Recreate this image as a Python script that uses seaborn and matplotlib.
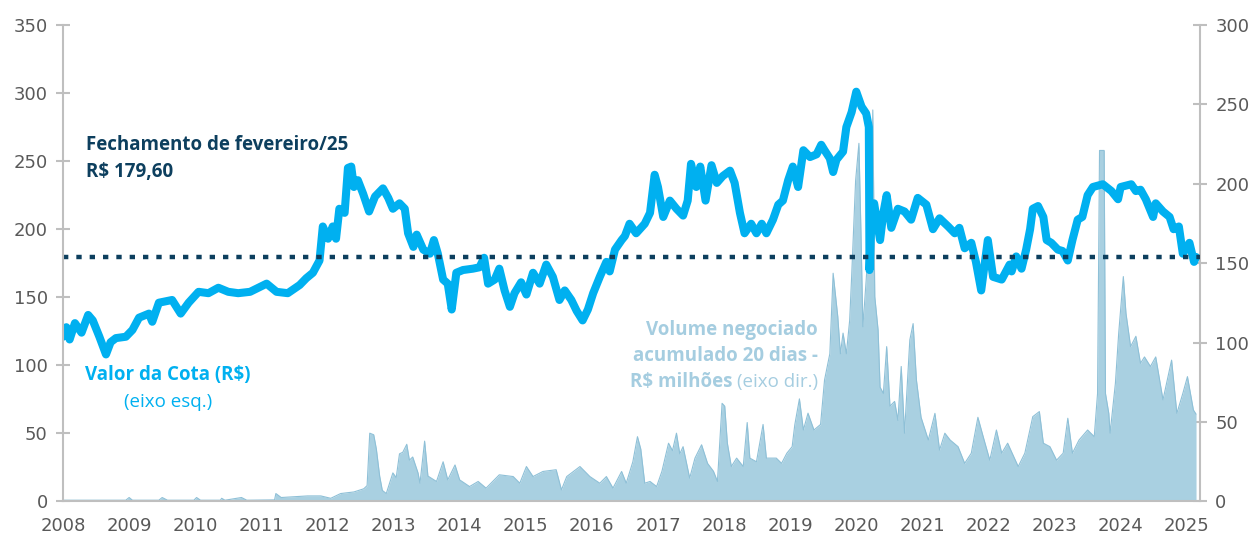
import pandas as pd
import matplotlib.pyplot as plt
import seaborn as sns

# valor da cota (R$) - eixo esquerdo
price_years = [
    2008.00, 2008.05, 2008.10, 2008.18, 2008.28, 2008.38, 2008.45, 2008.55, 2008.65, 2008.72,
    2008.80, 2008.95, 2009.05, 2009.15, 2009.30, 2009.35, 2009.45, 2009.65, 2009.78, 2009.90,
    2010.05, 2010.20, 2010.35, 2010.50, 2010.65, 2010.83, 2011.08, 2011.23, 2011.40, 2011.58,
    2011.68, 2011.78, 2011.88, 2011.93, 2012.01, 2012.08, 2012.13, 2012.18, 2012.26, 2012.31,
    2012.36, 2012.40, 2012.46, 2012.54, 2012.63, 2012.72, 2012.84, 2012.92, 2012.99, 2013.09,
    2013.17, 2013.22, 2013.30, 2013.35, 2013.45, 2013.55, 2013.61, 2013.67, 2013.75, 2013.82,
    2013.88, 2013.95, 2014.05, 2014.20, 2014.30, 2014.37, 2014.43, 2014.53, 2014.60, 2014.68,
    2014.76, 2014.83, 2014.93, 2015.01, 2015.11, 2015.21, 2015.31, 2015.41, 2015.51, 2015.59,
    2015.69, 2015.77, 2015.86, 2015.94, 2016.02, 2016.12, 2016.22, 2016.27, 2016.35, 2016.45,
    2016.50, 2016.57, 2016.67, 2016.80, 2016.88, 2016.95, 2017.00, 2017.08, 2017.18, 2017.28,
    2017.38, 2017.45, 2017.50, 2017.58, 2017.64, 2017.72, 2017.81, 2017.89, 2017.98, 2018.09,
    2018.16, 2018.24, 2018.31, 2018.41, 2018.49, 2018.57, 2018.64, 2018.74, 2018.82, 2018.89,
    2018.97, 2019.04, 2019.12, 2019.20, 2019.30, 2019.40, 2019.47, 2019.52, 2019.60, 2019.65,
    2019.70, 2019.80, 2019.85, 2019.93, 2020.00, 2020.08, 2020.15, 2020.19, 2020.20, 2020.23,
    2020.27, 2020.36, 2020.41, 2020.46, 2020.53, 2020.63, 2020.73, 2020.83, 2020.93, 2021.06,
    2021.16, 2021.26, 2021.39, 2021.49, 2021.56, 2021.64, 2021.74, 2021.81, 2021.89, 2021.99,
    2022.07, 2022.20, 2022.32, 2022.35, 2022.42, 2022.50, 2022.57, 2022.63, 2022.67, 2022.75,
    2022.83, 2022.88, 2022.95, 2023.05, 2023.12, 2023.20, 2023.27, 2023.35, 2023.42, 2023.50,
    2023.58, 2023.73, 2023.86, 2023.96, 2024.00, 2024.16, 2024.23, 2024.30, 2024.38, 2024.49,
    2024.53, 2024.64, 2024.74, 2024.80, 2024.88, 2024.94, 2025.04, 2025.11, 2025.14,
]
price_values = [
    121, 128, 119, 131, 124, 137, 133, 121, 108, 117,
    120, 121, 126, 135, 138, 132, 146, 148, 138, 146,
    154, 153, 157, 154, 153, 154, 160, 154, 153, 159,
    164, 168, 177, 202, 193, 202, 193, 215, 212, 245,
    246, 231, 236, 226, 213, 224, 230, 223, 215, 219,
    215, 197, 187, 196, 185, 182, 192, 182, 163, 160,
    141, 168, 170, 171, 172, 179, 160, 163, 171, 155,
    143, 153, 161, 152, 168, 160, 174, 165, 148, 155,
    148, 140, 133, 141, 153, 165, 176, 169, 185, 192,
    195, 204, 197, 204, 212, 240, 231, 209, 221, 215,
    210, 221, 248, 231, 246, 221, 247, 234, 239, 243,
    234, 212, 197, 204, 197, 204, 197, 207, 218, 221,
    236, 246, 231, 258, 253, 255, 262, 258, 252, 242,
    251, 257, 275, 286, 301, 290, 285, 275, 170, 207,
    219, 192, 212, 225, 201, 215, 213, 207, 223, 218,
    200, 208, 202, 197, 201, 186, 190, 176, 155, 192,
    165, 163, 174, 169, 180, 171, 185, 200, 215, 217,
    209, 192, 190, 185, 184, 177, 192, 207, 209, 225,
    231, 233, 228, 222, 231, 233, 228, 229, 222, 209,
    219, 213, 209, 200, 202, 182, 190, 176, 179.6,
]

# volume negociado acumulado 20 dias (R$ milhoes) - eixo direito
volume_years = [
    2008.00, 2008.50, 2008.95, 2009.00, 2009.05, 2009.45, 2009.50, 2009.58, 2009.98, 2010.02,
    2010.08, 2010.38, 2010.40, 2010.45, 2010.70, 2010.78, 2011.20, 2011.22, 2011.30, 2011.50,
    2011.70, 2011.90, 2012.05, 2012.20, 2012.40, 2012.55, 2012.60, 2012.64, 2012.70, 2012.74,
    2012.79, 2012.83, 2012.89, 2012.99, 2013.04, 2013.09, 2013.14, 2013.20, 2013.24, 2013.29,
    2013.37, 2013.40, 2013.47, 2013.52, 2013.65, 2013.75, 2013.82, 2013.93, 2014.00, 2014.15,
    2014.28, 2014.40, 2014.60, 2014.81, 2014.91, 2015.01, 2015.11, 2015.26, 2015.46, 2015.54,
    2015.62, 2015.82, 2015.97, 2016.12, 2016.22, 2016.32, 2016.45, 2016.52, 2016.62, 2016.69,
    2016.74, 2016.80, 2016.88, 2016.98, 2017.06, 2017.16, 2017.22, 2017.28, 2017.33, 2017.38,
    2017.48, 2017.56, 2017.66, 2017.75, 2017.84, 2017.90, 2017.97, 2018.01, 2018.05, 2018.11,
    2018.19, 2018.29, 2018.35, 2018.39, 2018.49, 2018.59, 2018.64, 2018.79, 2018.87, 2018.95,
    2019.03, 2019.07, 2019.14, 2019.20, 2019.27, 2019.36, 2019.46, 2019.52, 2019.60, 2019.65,
    2019.72, 2019.76, 2019.80, 2019.85, 2019.90, 2019.93, 2019.99, 2020.04, 2020.07, 2020.10,
    2020.15, 2020.23, 2020.25, 2020.28, 2020.33, 2020.36, 2020.41, 2020.46, 2020.51, 2020.58,
    2020.63, 2020.68, 2020.73, 2020.81, 2020.86, 2020.91, 2020.98, 2021.09, 2021.19, 2021.26,
    2021.34, 2021.42, 2021.54, 2021.64, 2021.74, 2021.84, 2021.92, 2022.02, 2022.12, 2022.20,
    2022.29, 2022.45, 2022.55, 2022.67, 2022.77, 2022.83, 2022.93, 2023.03, 2023.13, 2023.20,
    2023.27, 2023.37, 2023.50, 2023.60, 2023.65, 2023.68, 2023.75, 2023.77, 2023.82, 2023.84,
    2023.92, 2023.97, 2024.04, 2024.08, 2024.15, 2024.23, 2024.30, 2024.36, 2024.45, 2024.53,
    2024.64, 2024.77, 2024.85, 2024.94, 2025.01, 2025.10, 2025.14,
]
volume_values = [
    0.8, 0.8, 0.8, 2.5, 0.8, 0.8, 2.5, 0.8, 0.8, 2.5,
    0.8, 0.8, 2.0, 0.8, 2.5, 0.8, 1.0, 5.0, 2.5, 3.0,
    3.5, 3.5, 2.0, 5.0, 6.0, 8.0, 10, 43, 42, 33,
    16, 7, 5, 18, 15, 30, 31, 36, 26, 28,
    18, 11.5, 38, 16, 12.6, 25, 13.6, 23, 13.6, 9.4,
    12.6, 8.4, 16.8, 15.7, 11.5, 22, 15.7, 18.9, 20, 7.3,
    15.7, 22, 15.7, 11.5, 15.7, 8.4, 18.9, 11.5, 25, 40.8,
    33, 11.5, 12.6, 9.4, 19, 36.7, 32, 43, 30, 34.5,
    14.7, 27.3, 35.7, 24, 19, 12.6, 61.8, 60, 36.7, 22,
    27.3, 22, 49.7, 27.3, 25, 48.5, 27.3, 27.3, 24, 30.4,
    34.5, 48.3, 64.6, 45, 55.6, 45, 48.5, 76.5, 93, 143.7,
    116.5, 93, 106, 93, 114, 141.6, 202, 225.5, 171, 110,
    139.5, 192, 246.5, 129, 108, 72, 68, 97.5, 60, 63,
    51, 85, 43, 101.7, 112, 76.5, 53, 38.7, 55.5, 32.4,
    43, 38.7, 34.5, 24, 30.4, 53, 40.8, 26, 45, 30.4,
    36.7, 22, 30.4, 53.4, 56.6, 36.7, 34.5, 26, 30.4, 52.4,
    30.4, 38.7, 45, 40.8, 68, 221, 221, 68, 55.5, 43,
    74.4, 106, 141.6, 118.5, 97.5, 104, 87, 91, 85, 91,
    64, 89, 55.5, 68, 78.6, 57.6, 55,
]

closing_value = 179.60
left_ticks = [0, 50, 100, 150, 200, 250, 300, 350]
right_ticks = [0, 50, 100, 150, 200, 250, 300]
year_ticks = list(range(2008, 2026))

cota_color = '#00B0F0'
navy = '#0D3F5E'
vol_color = '#A9D0E1'
grey = '#BFBFBF'
label_grey = '#595959'

sns.set_style("white")
plt.rcParams['font.family'] = ['DejaVu Sans']

cota = pd.DataFrame({'ano': price_years, 'cota': price_values})
volume = pd.DataFrame({'ano': volume_years, 'volume': volume_values})

fig = plt.figure(figsize=(12.58, 5.36), dpi=100)
ax = fig.add_axes([0.0501, 0.0644, 0.9038, 0.889])
ax2 = ax.twinx()

ax2.fill_between(volume['ano'], volume['volume'], color=vol_color, lw=0)
sns.lineplot(data=volume, x='ano', y='volume', ax=ax2, color='#8EC0D7', linewidth=0.8)

sns.lineplot(data=cota, x='ano', y='cota', ax=ax, color=cota_color, linewidth=5.8,
             solid_capstyle='round', solid_joinstyle='round')
ax.axhline(closing_value, color=navy, linewidth=3.2, dashes=(1.2, 1.8))

ax.set_zorder(ax2.get_zorder() + 1)
ax.patch.set_visible(False)

ax.set_xlim(2008, 2025.2)
ax.set_ylim(0, 350)
ax2.set_ylim(0, 300)
ax.set_xticks(year_ticks)
ax.set_yticks(left_ticks)
ax2.set_yticks(right_ticks)
ax.set_xlabel('')
ax.set_ylabel('')
ax2.set_ylabel('')

for a in (ax, ax2):
    a.spines['top'].set_visible(False)
    for s in a.spines.values():
        s.set_color(grey)
        s.set_linewidth(1.5)
ax.spines['right'].set_visible(False)
ax2.spines['left'].set_visible(False)
ax2.spines['bottom'].set_visible(False)

ax.tick_params(axis='y', direction='inout', length=10, width=1.5, color=grey,
               labelsize=13, labelcolor=label_grey, pad=6)
ax2.tick_params(axis='y', direction='inout', length=10, width=1.5, color=grey,
                labelsize=13, labelcolor=label_grey, pad=6)
ax.tick_params(axis='x', direction='out', length=5, width=1.5, color=grey,
               labelsize=13, labelcolor=label_grey, pad=6)

ann_font = ['Open Sans', 'DejaVu Sans']
fig.text(86 / 1258, 1 - 145 / 536, 'Fechamento de fevereiro/25', color=navy,
         fontsize=13.5, fontweight='bold', family=ann_font, va='center')
fig.text(86 / 1258, 1 - 172 / 536, 'R$ 179,60', color=navy,
         fontsize=13.5, fontweight='bold', family=ann_font, va='center')

fig.text(168 / 1258, 1 - 375 / 536, 'Valor da Cota (R$)', color=cota_color,
         fontsize=13.5, fontweight='bold', family=ann_font, va='center', ha='center')
fig.text(168 / 1258, 1 - 402 / 536, '(eixo esq.)', color=cota_color,
         fontsize=13.5, family=ann_font, va='center', ha='center')

vol_text = '#A5CDE0'
fig.text(818 / 1258, 1 - 330 / 536, 'Volume negociado', color=vol_text,
         fontsize=13.5, fontweight='bold', family=ann_font, va='center', ha='right')
fig.text(818 / 1258, 1 - 356 / 536, 'acumulado 20 dias -', color=vol_text,
         fontsize=13.5, fontweight='bold', family=ann_font, va='center', ha='right')
t_reg = fig.text(818 / 1258, 1 - 382 / 536, '(eixo dir.)', color=vol_text,
                 fontsize=13.5, family=ann_font, va='center', ha='right')
fig.canvas.draw()
bb = t_reg.get_window_extent()
fig.text((bb.x0 - 4) / 1258, 1 - 382 / 536, 'R$ milhões', color=vol_text,
         fontsize=13.5, fontweight='bold', family=ann_font, va='center', ha='right')

fig.savefig('out.png', dpi=100)
